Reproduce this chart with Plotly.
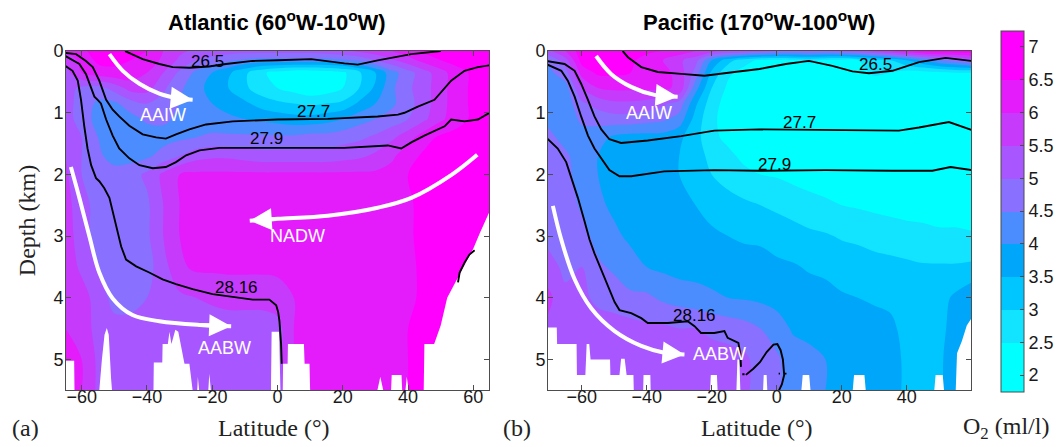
import plotly.graph_objects as go

# ---------------------------------------------------------------------------
# Dissolved oxygen (ml/l) on meridional sections, gridded by depth (rows)
# and latitude (columns)
# ---------------------------------------------------------------------------
DEPTH_KM = [0, 0.15, 0.35, 0.6, 0.85, 1.1, 1.4, 1.7, 2.0, 2.5, 3.0, 3.5, 4.0, 4.5, 5.0, 5.5]

ATL_LAT = [-65, -60, -55, -50, -45, -40, -35, -30, -25, -20, -15, -10, -5, 0,
           5, 10, 15, 20, 25, 30, 35, 40, 45, 50, 55, 60, 65]
ATL_O2 = [
    [6.0, 6.4, 6.7, 6.8, 6.8, 6.5, 6.0, 5.6, 5.4, 5.3, 5.2, 5.2, 5.2, 5.2, 5.2, 5.2, 5.3, 5.4, 5.6, 5.8, 6.0, 6.3, 6.6, 6.8, 6.9, 6.9, 6.9],
    [5.5, 6.2, 6.6, 6.6, 6.5, 6.3, 5.9, 5.4, 5.0, 4.8, 4.6, 4.4, 4.3, 4.3, 4.3, 4.3, 4.3, 4.4, 4.6, 5.0, 5.4, 5.8, 6.2, 6.5, 6.7, 6.8, 6.8],
    [5.3, 6.0, 6.3, 6.4, 6.3, 6.0, 5.5, 4.9, 4.4, 4.0, 3.6, 3.1, 2.6, 2.3, 2.1, 2.1, 2.2, 2.4, 2.9, 3.5, 4.3, 4.8, 5.3, 5.8, 6.3, 6.6, 6.7],
    [5.2, 4.9, 4.8, 5.2, 5.7, 5.7, 5.1, 4.6, 4.2, 3.8, 3.5, 3.1, 2.7, 2.5, 2.3, 2.1, 2.2, 2.5, 3.0, 3.6, 4.4, 4.9, 5.3, 5.8, 6.3, 6.6, 6.7],
    [5.2, 4.8, 4.4, 4.4, 4.8, 5.0, 4.8, 4.5, 4.3, 4.0, 3.8, 3.6, 3.3, 3.1, 3.0, 2.9, 3.0, 3.1, 3.6, 4.0, 4.4, 4.8, 5.3, 5.8, 6.3, 6.6, 6.7],
    [5.2, 4.8, 4.3, 4.2, 4.3, 4.6, 4.6, 4.4, 4.3, 4.2, 4.1, 4.0, 3.9, 3.8, 3.7, 3.7, 3.8, 4.0, 4.3, 4.5, 4.7, 5.0, 5.4, 5.9, 6.3, 6.6, 6.7],
    [5.5, 5.0, 4.5, 4.2, 4.2, 4.2, 4.3, 4.4, 4.5, 4.6, 4.6, 4.6, 4.6, 4.6, 4.6, 4.7, 4.7, 4.8, 4.9, 5.1, 5.4, 5.8, 6.3, 6.6, 6.7, 6.7, 6.7],
    [5.5, 5.0, 4.6, 4.3, 4.3, 4.4, 4.7, 5.0, 5.3, 5.4, 5.4, 5.3, 5.2, 5.2, 5.2, 5.2, 5.2, 5.3, 5.4, 5.6, 5.9, 6.3, 6.6, 6.7, 6.7, 6.7, 6.7],
    [5.6, 5.0, 4.8, 4.7, 4.8, 5.1, 5.6, 6.0, 6.1, 6.1, 6.1, 6.1, 6.1, 6.1, 6.1, 6.1, 6.1, 6.1, 6.1, 6.1, 6.2, 6.5, 6.7, 6.8, 6.8, 6.8, 6.8],
    [5.7, 5.2, 4.8, 4.7, 4.7, 4.9, 5.5, 6.0, 6.1, 6.1, 6.1, 6.1, 6.1, 6.1, 6.1, 6.1, 6.1, 6.1, 6.1, 6.1, 6.2, 6.4, 6.7, 6.8, 6.8, 6.8, 6.8],
    [5.8, 5.2, 4.8, 4.7, 4.7, 4.9, 5.5, 6.0, 6.1, 6.1, 6.1, 6.1, 6.1, 6.1, 6.1, 6.1, 6.1, 6.1, 6.1, 6.1, 6.2, 6.4, 6.7, 6.8, 6.8, 6.8, 6.8],
    [5.8, 5.4, 5.0, 4.7, 4.7, 4.8, 5.3, 5.9, 6.1, 6.1, 6.1, 6.1, 6.1, 6.1, 6.1, 6.1, 6.1, 6.1, 6.1, 6.1, 6.2, 6.4, 6.6, 6.8, 6.8, 6.8, 6.8],
    [5.8, 5.7, 5.3, 4.8, 4.8, 5.0, 5.3, 5.4, 5.5, 5.6, 5.7, 5.7, 5.7, 5.8, 6.0, 6.1, 6.1, 6.1, 6.1, 6.1, 6.2, 6.4, 6.6, 6.7, 6.8, 6.8, 6.8],
    [6.0, 5.8, 5.3, 5.2, 5.2, 5.2, 5.2, 5.2, 5.2, 5.2, 5.2, 5.2, 5.2, 5.3, 6.0, 6.1, 6.1, 6.1, 6.1, 6.1, 6.2, 6.5, 6.6, 6.7, 6.8, 6.8, 6.8],
    [6.2, 6.0, 5.4, 5.2, 5.2, 5.2, 5.2, 5.2, 5.2, 5.2, 5.2, 5.2, 5.2, 5.3, 6.0, 6.2, 6.3, 6.3, 6.3, 6.3, 6.3, 6.5, 6.6, 6.7, 6.8, 6.8, 6.8],
    [6.2, 6.0, 5.4, 5.2, 5.2, 5.2, 5.2, 5.2, 5.2, 5.2, 5.2, 5.2, 5.2, 5.3, 6.0, 6.2, 6.4, 6.4, 6.4, 6.4, 6.3, 6.5, 6.6, 6.7, 6.8, 6.8, 6.8],
]

PAC_LAT = [-71, -65, -60, -55, -50, -45, -40, -35, -30, -25, -20, -15, -10, -5,
           0, 5, 10, 15, 20, 25, 30, 35, 40, 45, 50, 55, 60]
PAC_O2 = [
    [5.3, 6.0, 6.8, 6.9, 6.9, 6.8, 6.6, 6.5, 6.3, 6.0, 5.7, 5.5, 5.3, 5.2, 5.0, 5.0, 5.0, 5.0, 5.1, 5.3, 5.6, 6.0, 6.4, 6.7, 6.8, 6.8, 6.8],
    [4.4, 5.3, 6.7, 6.8, 6.8, 6.6, 6.3, 6.0, 5.6, 5.2, 4.0, 3.2, 2.7, 2.4, 2.3, 2.4, 2.6, 2.4, 2.3, 2.5, 2.8, 3.0, 3.5, 4.0, 4.5, 4.8, 5.2],
    [4.3, 4.8, 6.2, 6.6, 6.6, 6.5, 6.3, 6.2, 5.8, 4.8, 3.4, 2.6, 2.3, 2.2, 2.2, 2.2, 2.2, 2.2, 2.2, 2.3, 2.6, 2.5, 2.3, 2.3, 2.4, 2.5, 2.5],
    [4.2, 4.3, 5.5, 6.0, 6.1, 6.1, 6.1, 6.1, 5.9, 4.2, 3.0, 2.4, 2.2, 2.1, 2.1, 2.1, 2.1, 2.1, 2.1, 2.1, 2.1, 2.1, 2.1, 2.1, 2.1, 2.1, 2.1],
    [4.3, 4.2, 4.9, 5.2, 5.4, 5.4, 5.3, 5.1, 4.8, 3.6, 2.7, 2.3, 2.2, 2.1, 2.1, 2.1, 2.1, 2.1, 2.1, 2.1, 2.1, 2.1, 2.1, 2.1, 2.1, 2.1, 2.1],
    [4.4, 4.2, 4.6, 4.7, 4.8, 4.8, 4.7, 4.6, 4.3, 3.3, 2.6, 2.3, 2.2, 2.1, 2.1, 2.1, 2.1, 2.1, 2.1, 2.1, 2.1, 2.1, 2.1, 2.1, 2.1, 2.1, 2.1],
    [4.7, 4.3, 4.3, 4.2, 3.9, 3.8, 3.8, 3.8, 3.6, 3.2, 2.6, 2.4, 2.3, 2.2, 2.1, 2.1, 2.1, 2.1, 2.1, 2.1, 2.1, 2.1, 2.1, 2.1, 2.1, 2.1, 2.1],
    [4.8, 4.6, 4.2, 4.0, 3.8, 3.7, 3.7, 3.6, 3.5, 3.3, 2.8, 2.6, 2.4, 2.3, 2.2, 2.1, 2.1, 2.1, 2.1, 2.1, 2.1, 2.1, 2.1, 2.1, 2.1, 2.1, 2.1],
    [4.8, 4.7, 4.2, 4.0, 3.8, 3.7, 3.7, 3.6, 3.5, 3.4, 3.0, 2.8, 2.6, 2.5, 2.45, 2.35, 2.25, 2.2, 2.15, 2.1, 2.1, 2.1, 2.1, 2.1, 2.1, 2.1, 2.1],
    [4.8, 4.8, 4.4, 4.1, 3.9, 3.8, 3.7, 3.7, 3.6, 3.5, 3.3, 3.2, 3.1, 3.0, 2.9, 2.8, 2.7, 2.6, 2.5, 2.45, 2.4, 2.35, 2.3, 2.3, 2.25, 2.25, 2.25],
    [4.9, 4.8, 4.7, 4.3, 4.1, 3.9, 3.8, 3.7, 3.7, 3.7, 3.6, 3.5, 3.45, 3.4, 3.3, 3.2, 3.1, 3.05, 2.95, 2.9, 2.8, 2.75, 2.7, 2.65, 2.6, 2.6, 2.55],
    [5.2, 4.9, 5.0, 4.6, 4.4, 4.2, 4.0, 3.9, 3.8, 3.8, 3.75, 3.7, 3.65, 3.7, 3.6, 3.55, 3.45, 3.4, 3.3, 3.25, 3.2, 3.15, 3.1, 3.05, 3.05, 3.05, 3.1],
    [5.7, 5.1, 5.1, 4.9, 4.8, 4.6, 4.6, 4.4, 4.3, 4.2, 4.1, 4.0, 3.95, 3.9, 3.85, 3.75, 3.7, 3.65, 3.55, 3.5, 3.45, 3.4, 3.3, 3.2, 3.3, 3.6, 3.9],
    [5.4, 5.2, 5.2, 5.2, 5.2, 5.2, 5.1, 5.1, 5.0, 5.0, 4.9, 4.8, 4.7, 4.5, 4.2, 3.95, 3.9, 3.85, 3.75, 3.7, 3.65, 3.6, 3.35, 3.25, 3.35, 3.7, 4.0],
    [5.2, 5.2, 5.2, 5.2, 5.2, 5.2, 5.2, 5.2, 5.2, 5.2, 5.2, 5.2, 5.1, 4.8, 4.6, 4.2, 4.1, 4.0, 3.9, 3.8, 3.75, 3.7, 3.4, 3.3, 3.4, 3.8, 4.1],
    [5.2, 5.2, 5.2, 5.2, 5.2, 5.2, 5.2, 5.2, 5.2, 5.2, 5.2, 5.2, 5.1, 4.8, 4.6, 4.2, 4.1, 4.0, 3.9, 3.8, 3.75, 3.7, 3.4, 3.3, 3.4, 3.8, 4.1],
]

# Sea floor (white) along each section
ATL_FLOOR_LAT = [-65.0, -62.3, -62.2, -54.6, -53.8, -53.0, -52.3, -51.7, -51.0, -50.7, -38.0, -37.9, -35.3, -35.2,
                 -33.6, -33.1, -32.5, -31.3, -30.4, -29.6, -28.5, -27.0, -26.5, -26.0, -24.6, -24.4, -24.0, -21.2,
                 -20.9, -20.4, -2.0, -1.8, 0.5, 0.9, 1.6, 1.7, 3.1, 3.2, 8.1, 8.3, 9.8, 10.0, 30.6, 31.5, 32.4,
                 34.8, 35.0, 38.0, 38.2, 39.2, 39.6, 40.2, 44.8, 45.0, 48.0, 50.0, 52.0, 54.0, 56.0, 58.0, 60.0,
                 62.0, 64.0, 65.0]
ATL_FLOOR_DEPTH = [5.02, 5.02, 5.5, 5.5, 5.0, 4.6, 4.49, 4.6, 5.3, 5.5, 5.5, 5.05, 5.05, 4.75,
                   4.75, 4.55, 4.75, 4.52, 4.55, 4.75, 5.07, 5.07, 5.3, 5.5, 5.5, 5.28, 5.5, 5.5,
                   5.23, 5.5, 5.5, 4.55, 4.55, 5.5, 5.5, 5.07, 5.07, 4.75, 4.75, 5.07, 5.07, 5.5, 5.5, 5.28, 5.5,
                   5.5, 5.25, 5.25, 5.5, 5.5, 5.28, 5.5, 5.5, 4.75, 4.75, 4.45, 4.0, 3.8, 3.6, 3.4, 3.2,
                   2.95, 2.7, 2.6]
PAC_FLOOR_LAT = [-71.0, -67.7, -67.6, -61.6, -61.5, -58.9, -58.5, -57.7, -57.3, -51.3, -51.2, -48.4, -47.9, -46.8,
                 -46.2, -44.1, -44.0, -41.1, -41.0, -38.9, -38.8, -20.5, -20.3, -18.4, -18.2, -12.4, -12.1, -11.5,
                 -11.2, -4.2, -4.0, -3.1, -2.9, 7.6, 8.0, 10.0, 10.4, 23.4, 23.8, 27.0, 27.4, 48.5, 48.9, 51.1,
                 51.5, 55.1, 55.5, 57.0, 58.5, 60.0]
PAC_FLOOR_DEPTH = [4.48, 4.48, 4.75, 4.75, 5.25, 5.25, 4.75, 4.75, 5.0, 5.0, 5.25, 5.25, 4.99, 4.99,
                   5.25, 5.25, 5.5, 5.5, 5.25, 5.25, 5.5, 5.5, 5.25, 5.25, 5.5, 5.5, 5.0, 5.0,
                   5.5, 5.5, 5.25, 5.25, 5.5, 5.5, 5.25, 5.25, 5.5, 5.5, 5.25, 5.25, 5.5, 5.5, 5.25, 5.25,
                   5.5, 5.5, 4.9, 4.7, 4.45, 4.33]

# Neutral-density isopycnals (kg/m3): latitude and depth (km) along each line
ATL_G265_LAT = [-46.7, -41.3, -36.2, -32.1, -27.0, -21.0, -15.8, -7.6, 0.1, 10.3, 20.5, 24.6, 30.7, 41.0, 50.0]
ATL_G265_DEPTH = [0.0, 0.13, 0.21, 0.26, 0.27, 0.25, 0.21, 0.16, 0.15, 0.13, 0.2, 0.22, 0.15, 0.05, 0.0]
ATL_G277_LAT = [-65.0, -61.7, -58.7, -56.6, -54.6, -53.6, -52.5, -50.5, -48.5, -45.4, -41.3, -37.2, -34.2, -31.1,
                -27.0, -21.9, -13.7, 0.1, 15.4, 30.7, 36.9, 38.9, 43.0, 48.1, 53.2, 57.3, 61.4, 65.0]
ATL_G277_DEPTH = [0.03, 0.05, 0.16, 0.26, 0.48, 0.63, 0.79, 0.95, 1.06, 1.21, 1.35, 1.40, 1.42, 1.35,
                  1.27, 1.19, 1.14, 1.11, 1.10, 1.06, 1.03, 1.0, 0.9, 0.79, 0.48, 0.32, 0.26, 0.23]
ATL_G279_LAT = [-65.0, -60.7, -58.7, -57.1, -56.1, -55.1, -54.1, -52.5, -50.5, -48.5, -45.4, -42.3, -38.2, -34.2,
                -31.1, -28.0, -23.9, -17.8, -8.6, 0.1, 20.5, 33.8, 37.9, 41.0, 45.0, 51.2, 53.2, 57.3, 61.4, 65.0]
ATL_G279_DEPTH = [0.08, 0.21, 0.37, 0.58, 0.74, 0.79, 0.85, 1.11, 1.37, 1.58, 1.74, 1.85, 1.90, 1.88,
                  1.80, 1.69, 1.61, 1.57, 1.57, 1.57, 1.57, 1.53, 1.58, 1.48, 1.37, 1.22, 1.11, 1.14, 1.11, 1.0]
ATL_G2816_LAT = [-65.0, -62.8, -61.2, -60.2, -59.2, -58.2, -57.1, -55.6, -54.6, -53.1, -51.5, -49.5, -47.9, -46.4,
                 -43.3, -39.3, -35.2, -31.1, -26.0, -19.9, -13.7, -7.6, -2.5, -0.4, 0.2, 0.6, 1.1, 1.3,
                 None, 55.3, 55.8, 57.3, 58.8, 60.4]
ATL_G2816_DEPTH = [0.24, 0.32, 0.48, 0.79, 1.22, 1.58, 1.85, 2.06, 2.11, 2.22, 2.38, 2.80, 3.17, 3.38,
                   3.49, 3.59, 3.70, 3.78, 3.86, 3.94, 3.99, 4.03, 4.03, 4.12, 4.23, 4.38, 4.75, 5.07,
                   None, 3.75, 3.59, 3.43, 3.30, 3.23]

PAC_G265_LAT = [-47.4, -45.8, -41.7, -36.6, -29.4, -22.2, -13.0, -5.3, 2.8, 9.9, 17.1, 23.3, 28.4, 35.6, 43.8,
                52.0, 60.0]
PAC_G265_DEPTH = [0.0, 0.1, 0.26, 0.34, 0.37, 0.40, 0.34, 0.29, 0.21, 0.16, 0.24, 0.33, 0.36, 0.32, 0.18,
                  0.11, 0.16]
PAC_G277_LAT = [-71.0, -65.3, -62.2, -60.2, -58.1, -56.1, -54.0, -51.5, -47.9, -39.7, -29.4, -19.2, -5.3, 9.9,
                24.3, 37.6, 43.8, 53.0, 60.0]
PAC_G277_DEPTH = [0.16, 0.21, 0.32, 0.53, 0.79, 1.06, 1.27, 1.43, 1.49, 1.45, 1.38, 1.29, 1.27, 1.28,
                  1.29, 1.29, 1.24, 1.15, 1.28]
PAC_G279_LAT = [-71.0, -66.3, -64.3, -62.2, -60.2, -58.1, -56.1, -54.0, -51.5, -48.4, -44.8, -34.6, -19.2, -5.3,
                15.1, 35.6, 47.9, 53.5, 60.0]
PAC_G279_DEPTH = [0.21, 0.32, 0.48, 0.74, 1.06, 1.37, 1.58, 1.74, 1.93, 2.03, 2.03, 1.95, 1.93, 1.94,
                  1.93, 1.94, 1.94, 1.88, 1.93]
PAC_G2816_LAT = [-71.0, -67.4, -64.8, -62.8, -61.2, -59.2, -57.6, -56.1, -54.0, -52.0, -49.9, -48.4, -44.8, -41.7,
                 -39.7, -33.5, -27.4, -25.3, -23.3, -19.2, -16.1, -15.1, -13.0, -11.8, -11.2, -11.0,
                 None, -9.5, -7.2, -5.1, -3.1, -1.0, 0.2, 1.2, 1.9, 2.3, 1.6, 0.7,
                 None, -10.6, -9.9, None, 0.6, 1.0, None, 2.4, 3.0]
PAC_G2816_DEPTH = [1.40, 1.58, 1.80, 2.11, 2.38, 2.75, 3.06, 3.28, 3.54, 3.80, 4.07, 4.20, 4.25, 4.33,
                   4.41, 4.41, 4.38, 4.46, 4.57, 4.57, 4.54, 4.65, 4.70, 4.73, 4.91, 5.12,
                   None, 5.25, 5.15, 5.04, 4.88, 4.76, 4.75, 4.85, 5.0, 5.25, 5.4, 5.5,
                   None, 5.24, 5.24, None, 5.23, 5.23, None, 5.23, 5.23]

# Isopycnal labels: (text, latitude, depth)
ATL_GAMMA_LABELS = [("26.5", -21.4, 0.17), ("27.7", 11.1, 0.98), ("27.9", -3.5, 1.42), ("28.16", -12.5, 3.83)]
PAC_GAMMA_LABELS = [("26.5", 30.4, 0.22), ("27.7", 7.1, 1.16), ("27.9", -0.6, 1.84), ("28.16", -25.3, 4.29)]

# Water-mass pathways (latitude, depth) and their labels
ATL_AAIW_LAT = [-51.5, -47.4, -42.3, -36.2, -30.1, -26.0]
ATL_AAIW_DEPTH = [0.05, 0.32, 0.53, 0.69, 0.77, 0.79]
ATL_NADW_LAT = [61.2, 53.2, 41.0, 30.7, 15.4, 0.1, -8.5]
ATL_NADW_DEPTH = [1.68, 2.01, 2.38, 2.54, 2.67, 2.72, 2.75]
ATL_AABW_LAT = [-63.3, -60.7, -57.6, -54.6, -50.5, -44.4, -36.2, -24.0, -14.2]
ATL_AABW_DEPTH = [1.88, 2.38, 3.01, 3.59, 4.01, 4.28, 4.38, 4.44, 4.46]
PAC_AAIW_LAT = [-55.6, -51.0, -44.8, -37.6, -30.5]
PAC_AAIW_DEPTH = [0.08, 0.37, 0.58, 0.71, 0.74]
PAC_AABW_LAT = [-68.9, -66.3, -62.2, -57.1, -49.9, -41.7, -34.6, -28.4]
PAC_AABW_DEPTH = [2.51, 3.06, 3.70, 4.17, 4.54, 4.78, 4.89, 4.92]
ATL_WATER_LABELS = [("AAIW", -35.2, 1.03), ("NADW", 6.0, 3.0), ("AABW", -16.3, 4.82)]
PAC_WATER_LABELS = [("AAIW", -39.2, 1.0), ("AABW", -17.6, 4.91)]

O2_TICKS = [2, 2.5, 3, 3.5, 4, 4.5, 5, 5.5, 6, 6.5, 7]
# One fill colour per 0.5 ml/l band, cyan (low) to magenta (high)
O2_BAND_COLORS = ["rgb(0,255,255)", "rgb(18,228,255)", "rgb(0,198,255)", "rgb(0,166,250)",
                  "rgb(75,140,255)", "rgb(138,112,255)", "rgb(168,86,255)", "rgb(198,58,252)",
                  "rgb(228,28,252)", "rgb(255,0,255)"]
DEPTH_TICKS = [0, 1, 2, 3, 4, 5]
ATL_LAT_TICKS = [-60, -40, -20, 0, 20, 40, 60]
PAC_LAT_TICKS = [-60, -40, -20, 0, 20, 40]

# ---------------------------------------------------------------------------
W, H = 1062, 447
SANS = "Liberation Sans, Arial, sans-serif"
SERIF = "Liberation Serif, Times New Roman, serif"
AX_COLOR = "#4d4d4d"


def px(x):
    return x / W


def py(y):
    return 1 - y / H


# Plotly colours each filled band with the colorscale value at its centre;
# place each band colour at exactly that position.
lo, hi, step = O2_TICKS[0], O2_TICKS[-1], 0.5
span = (hi + step / 2) - (lo - step / 2)
cscale = [[0.0, O2_BAND_COLORS[0]]]
for k, c in enumerate(O2_BAND_COLORS):
    cscale.append([(lo + step * (k + 0.5) - (lo - step / 2)) / span, c])
cscale.append([1.0, O2_BAND_COLORS[-1]])

ATL_RANGE = [-64.8, 64.8]
PAC_RANGE = [-70.4, 59.8]
DEPTH_RANGE = [DEPTH_KM[-1], 0]

fig = go.Figure()

panels = [
    dict(lat=ATL_LAT, o2=ATL_O2, xa="x", ya="y", floor=(ATL_FLOOR_LAT, ATL_FLOOR_DEPTH),
         lines=[(ATL_G265_LAT, ATL_G265_DEPTH), (ATL_G277_LAT, ATL_G277_DEPTH),
                (ATL_G279_LAT, ATL_G279_DEPTH), (ATL_G2816_LAT, ATL_G2816_DEPTH)],
         glabels=ATL_GAMMA_LABELS,
         paths=[(ATL_AAIW_LAT, ATL_AAIW_DEPTH), (ATL_NADW_LAT, ATL_NADW_DEPTH), (ATL_AABW_LAT, ATL_AABW_DEPTH)],
         wlabels=ATL_WATER_LABELS, scale=True),
    dict(lat=PAC_LAT, o2=PAC_O2, xa="x2", ya="y2", floor=(PAC_FLOOR_LAT, PAC_FLOOR_DEPTH),
         lines=[(PAC_G265_LAT, PAC_G265_DEPTH), (PAC_G277_LAT, PAC_G277_DEPTH),
                (PAC_G279_LAT, PAC_G279_DEPTH), (PAC_G2816_LAT, PAC_G2816_DEPTH)],
         glabels=PAC_GAMMA_LABELS,
         paths=[(PAC_AAIW_LAT, PAC_AAIW_DEPTH), (PAC_AABW_LAT, PAC_AABW_DEPTH)],
         wlabels=PAC_WATER_LABELS, scale=False),
]

annotations = []
for p in panels:
    fig.add_trace(go.Contour(
        x=p["lat"], y=DEPTH_KM, z=p["o2"], xaxis=p["xa"], yaxis=p["ya"],
        colorscale=cscale, autocontour=False,
        contours=dict(start=lo, end=hi, size=step, coloring="fill", showlines=False),
        line=dict(width=0, smoothing=1.0),
        showscale=p["scale"],
        colorbar=dict(
            x=px(1000.5), xanchor="left", xpad=0,
            y=py(21), yanchor="top", ypad=0,
            len=361, lenmode="pixels",
            thickness=23, thicknessmode="pixels",
            outlinewidth=1, outlinecolor=AX_COLOR,
            title=dict(text="", side="right"),
            tickvals=O2_TICKS, ticktext=[f"{v:g}" for v in O2_TICKS],
            ticks="inside", ticklen=4, tickcolor=AX_COLOR,
            tickfont=dict(family=SANS, size=18, color="#1a1a1a"),
        ),
        hoverinfo="skip",
    ))
    flat, fdep = p["floor"]
    base = DEPTH_KM[-1] + 0.2
    fig.add_trace(go.Scatter(
        x=list(flat) + [flat[-1], flat[0]], y=list(fdep) + [base, base],
        xaxis=p["xa"], yaxis=p["ya"], mode="lines", fill="toself",
        fillcolor="white", line=dict(width=0, color="white"), hoverinfo="skip", showlegend=False,
    ))
    for lx, ly in p["lines"]:
        fig.add_trace(go.Scatter(
            x=lx, y=ly, xaxis=p["xa"], yaxis=p["ya"], mode="lines",
            line=dict(color="black", width=1.9), connectgaps=False,
            hoverinfo="skip", showlegend=False,
        ))
    for lx, ly in p["paths"]:
        fig.add_trace(go.Scatter(
            x=lx, y=ly, xaxis=p["xa"], yaxis=p["ya"], mode="lines",
            line=dict(color="white", width=4, shape="spline", smoothing=1.0),
            hoverinfo="skip", showlegend=False,
        ))
        annotations.append(dict(
            x=lx[-1], y=ly[-1], ax=lx[-2], ay=ly[-2], xref=p["xa"], yref=p["ya"],
            axref=p["xa"], ayref=p["ya"], text="", showarrow=True,
            arrowhead=2, arrowsize=1.1, arrowwidth=4, arrowcolor="white", standoff=0,
        ))
    for txt, lx, ly in p["glabels"]:
        annotations.append(dict(x=lx, y=ly, xref=p["xa"], yref=p["ya"], text=txt, showarrow=False,
                                xanchor="center", yanchor="middle",
                                font=dict(family=SANS, size=17, color="black")))
    for txt, lx, ly in p["wlabels"]:
        annotations.append(dict(x=lx, y=ly, xref=p["xa"], yref=p["ya"], text=txt, showarrow=False,
                                xanchor="center", yanchor="middle",
                                font=dict(family=SANS, size=18, color="white")))


def paper_text(text, x, y, font, angle=0):
    return dict(x=px(x), y=py(y), xref="paper", yref="paper", showarrow=False, text=text,
                xanchor="center", yanchor="middle", textangle=angle, font=font)


TITLE_FONT = dict(family=SANS, size=22, color="black")
LABEL_FONT = dict(family=SERIF, size=24, color="#222")
annotations += [
    paper_text("<b>Atlantic (60<sup>o</sup>W-10<sup>o</sup>W)</b>", 277, 11, TITLE_FONT),
    paper_text("<b>Pacific (170<sup>o</sup>W-100<sup>o</sup>W)</b>", 759, 11, TITLE_FONT),
    paper_text("Latitude (°)", 274, 428, LABEL_FONT),
    paper_text("Latitude (°)", 757, 428, LABEL_FONT),
    paper_text("Depth (km)", 27, 216, LABEL_FONT, angle=-90),
    paper_text("(a)", 25, 428, LABEL_FONT),
    paper_text("(b)", 517, 428, LABEL_FONT),
    paper_text("O<sub>2</sub> (ml/l)", 1006, 428, LABEL_FONT),
]

axis_common = dict(
    showline=True, linecolor=AX_COLOR, linewidth=1, mirror="allticks",
    ticks="inside", ticklen=5, tickcolor=AX_COLOR, showgrid=False, zeroline=False,
    tickfont=dict(family=SANS, size=18, color="#1a1a1a"), fixedrange=True,
)
ydom = [py(389), py(42)]
fig.update_layout(
    width=W, height=H, margin=dict(l=0, r=0, t=0, b=0),
    paper_bgcolor="white", plot_bgcolor="white", showlegend=False,
    xaxis=dict(domain=[px(66), px(489)], range=ATL_RANGE, tickvals=ATL_LAT_TICKS, anchor="y",
               ticklabelstandoff=-10, **axis_common),
    yaxis=dict(domain=ydom, range=DEPTH_RANGE, tickvals=DEPTH_TICKS, anchor="x",
               ticklabelstandoff=-2, **axis_common),
    xaxis2=dict(domain=[px(548), px(971)], range=PAC_RANGE, tickvals=PAC_LAT_TICKS, anchor="y2",
                ticklabelstandoff=-10, **axis_common),
    yaxis2=dict(domain=ydom, range=DEPTH_RANGE, tickvals=DEPTH_TICKS, anchor="x2",
                ticklabelstandoff=-2, **axis_common),
    annotations=annotations,
)

fig.write_html("out.html")
